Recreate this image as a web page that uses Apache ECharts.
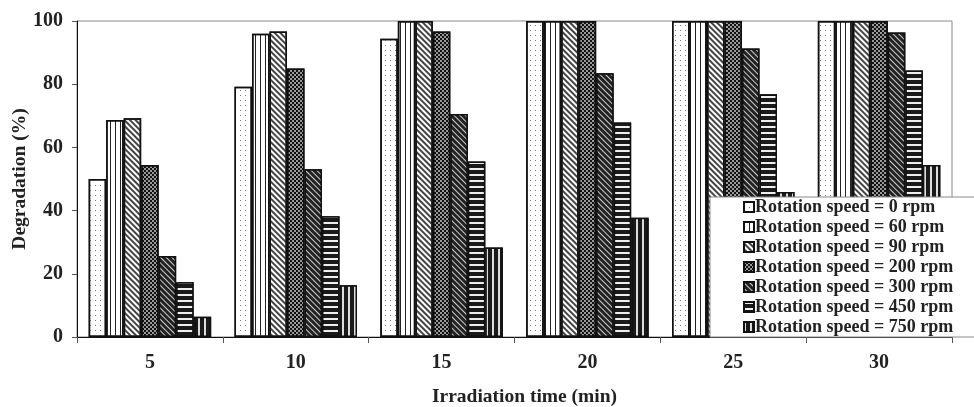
<!DOCTYPE html>
<html>
<head>
<meta charset="utf-8">
<script src="https://cdn.jsdelivr.net/npm/echarts@6/dist/echarts.min.js"></script>
<style>
  html, body { margin: 0; padding: 0; background: #fff; }
  #main { width: 974px; height: 407px; }
</style>
</head>
<body>
<div id="main"></div>
<script>
// irradiation time (min)
const times = ['5', '10', '15', '20', '25', '30'];
const speedNames = [
  'Rotation speed = 0 rpm',
  'Rotation speed = 60 rpm',
  'Rotation speed = 90 rpm',
  'Rotation speed = 200 rpm',
  'Rotation speed = 300 rpm',
  'Rotation speed = 450 rpm',
  'Rotation speed = 750 rpm'
];
// degradation (%) per rotation speed
const rpm0   = [50.0, 79.2, 94.4, 100, 100, 100];
const rpm60  = [68.7, 96.0, 100, 100, 100, 100];
const rpm90  = [69.2, 96.7, 100, 100, 100, 100];
const rpm200 = [54.4, 85.0, 96.7, 100, 100, 100];
const rpm300 = [25.6, 53.1, 70.6, 83.5, 91.3, 96.4];
const rpm450 = [17.3, 38.2, 55.5, 67.9, 76.8, 84.3];
const rpm750 = [6.4, 16.4, 28.3, 37.7, 45.9, 54.4];
const yTicks = [0, 20, 40, 60, 80, 100];

const font = 'Liberation Serif';
const ink = '#222';

// fill patterns, one per series
const looks = [
  { color: '#fff', decal: { symbol: 'rect', symbolSize: 1, color: '#777', dashArrayX: [1, 4], dashArrayY: [1, 4] } },
  { color: '#fff', decal: { symbol: 'rect', symbolSize: 1, color: '#222', dashArrayX: [1, 4], dashArrayY: [4, 0] } },
  { color: '#fff', decal: { symbol: 'rect', symbolSize: 1, color: '#444', dashArrayX: [4, 0], dashArrayY: [1.5, 2], rotation: Math.PI / 4 } },
  { color: '#999', decal: { symbol: 'rect', symbolSize: 1, color: '#111', dashArrayX: [[2, 2], [0, 2, 2, 0]], dashArrayY: [2, 0] } },
  { color: '#222', decal: { symbol: 'rect', symbolSize: 1, color: '#ccc', dashArrayX: [4, 0], dashArrayY: [1, 3], rotation: Math.PI / 4 } },
  { color: '#1a1a1a', decal: { symbol: 'rect', symbolSize: 1, color: '#eee', dashArrayX: [4, 0], dashArrayY: [1.5, 3.5] } },
  { color: '#1a1a1a', decal: { symbol: 'rect', symbolSize: 1, color: '#ddd', dashArrayX: [1.5, 3.5], dashArrayY: [4, 0] } }
];

const allData = [rpm0, rpm60, rpm90, rpm200, rpm300, rpm450, rpm750];

const chart = echarts.init(document.getElementById('main'), null, { renderer: 'canvas' });

const series = allData.map((d, i) => ({
  name: speedNames[i],
  type: 'bar',
  data: d,
  barGap: '0%',
  barCategoryGap: '16%',
  itemStyle: {
    color: looks[i].color,
    decal: looks[i].decal,
    borderColor: '#111',
    borderWidth: 1.5
  },
  emphasis: { disabled: true }
}));

chart.setOption({
  animation: false,
  backgroundColor: '#fff',
  grid: {
    left: 77, right: 22, top: 21, bottom: 70,
    outerBoundsMode: 'none',
    containLabel: false,
    show: true, borderColor: '#888', borderWidth: 1
  },
  legend: {
    orient: 'vertical',
    left: 710, top: 197,
    padding: [1, 30, 1, 33],
    backgroundColor: '#fff',
    borderColor: '#888',
    borderWidth: 1,
    itemWidth: 10, itemHeight: 10,
    itemGap: 2,
    icon: 'rect',
    textStyle: { fontFamily: font, fontWeight: 'bold', fontSize: 18, color: ink, padding: [0, 0, 0, -4] },
    data: speedNames
  },
  xAxis: {
    type: 'category',
    data: times,
    name: 'Irradiation time (min)',
    nameLocation: 'middle',
    nameGap: 50,
    nameMoveOverlap: false,
    nameTextStyle: { fontFamily: font, fontWeight: 'bold', fontSize: 19.5, color: ink, padding: [0, 0, 0, 20] },
    axisLine: { lineStyle: { color: '#111', width: 1 } },
    axisTick: { show: true, length: 6, lineStyle: { color: '#555' } },
    axisLabel: { fontFamily: font, fontWeight: 'bold', fontSize: 20, color: ink, margin: 16 }
  },
  yAxis: {
    type: 'value',
    min: 0, max: 100, interval: 20,
    name: 'Degradation (%)',
    nameLocation: 'middle',
    nameGap: 47,
    nameMoveOverlap: false,
    nameTextStyle: { fontFamily: font, fontWeight: 'bold', fontSize: 19.5, color: ink },
    axisLine: { show: true, lineStyle: { color: '#111', width: 1 } },
    axisTick: { show: true, length: 5, lineStyle: { color: '#555' } },
    splitLine: { show: false },
    axisLabel: {
      fontFamily: font, fontWeight: 'bold', fontSize: 20, color: ink, margin: 14,
      formatter: v => yTicks.includes(v) ? String(v) : ''
    }
  },
  series: series
});
</script>
</body>
</html>
